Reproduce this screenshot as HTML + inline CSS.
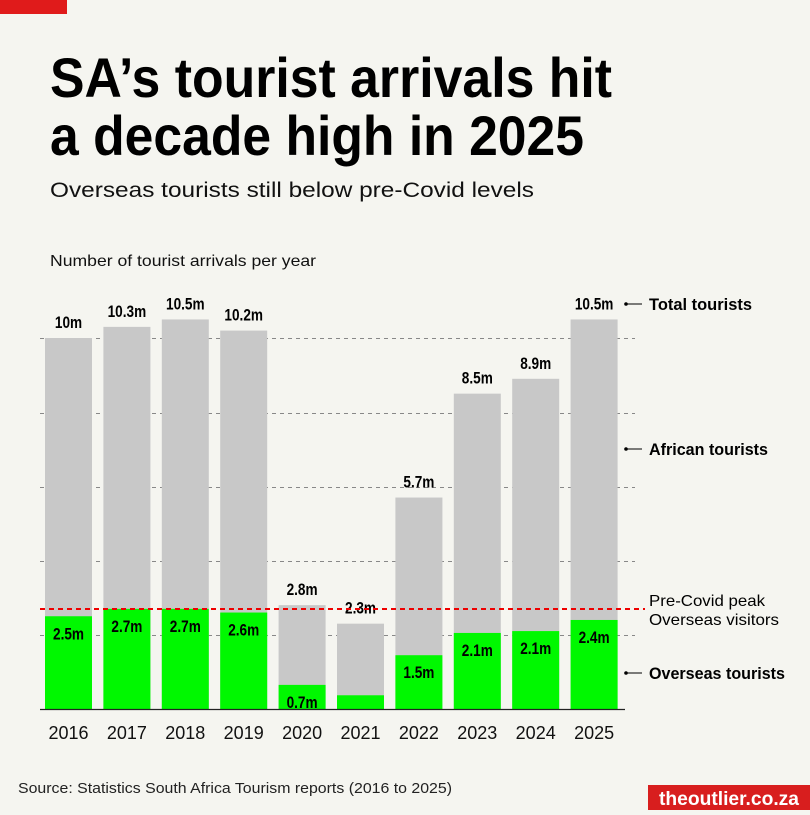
<!DOCTYPE html><html><head><style>
body{margin:0;background:#f5f5f0;}
text{font-family:"Liberation Sans",sans-serif;}
</style></head><body>
<svg width="810" height="810" xmlns="http://www.w3.org/2000/svg">
<rect width="810" height="810" fill="#f5f5f0"/>
<rect x="0" y="0" width="67" height="14" fill="#e01b1b"/>
<text x="50" y="97" font-size="56" font-weight="bold" fill="#000" textLength="562" lengthAdjust="spacingAndGlyphs">SA’s tourist arrivals hit</text>
<text x="50" y="155" font-size="56" font-weight="bold" fill="#000" textLength="534" lengthAdjust="spacingAndGlyphs">a decade high in 2025</text>
<text x="50" y="197" font-size="21" fill="#111" textLength="484" lengthAdjust="spacingAndGlyphs">Overseas tourists still below pre-Covid levels</text>
<text x="50" y="266" font-size="16" fill="#111" textLength="266" lengthAdjust="spacingAndGlyphs">Number of tourist arrivals per year</text>
<g stroke="#888" stroke-width="1" stroke-dasharray="4,4">
<line x1="40" y1="338.5" x2="635" y2="338.5"/><line x1="40" y1="413.5" x2="635" y2="413.5"/>
<line x1="40" y1="487.5" x2="635" y2="487.5"/><line x1="40" y1="561.5" x2="635" y2="561.5"/>
<line x1="40" y1="635.5" x2="635" y2="635.5"/>
</g>
<g id="bars"></g>
<line x1="40" y1="709.5" x2="625" y2="709.5" stroke="#222" stroke-width="1.2"/>
<line x1="40" y1="609" x2="645" y2="609" stroke="#e00" stroke-width="2" stroke-dasharray="5,4"/>
<g font-size="17" fill="#000">
<text x="649" y="310" font-weight="bold" textLength="103" lengthAdjust="spacingAndGlyphs">Total tourists</text>
<text x="649" y="455" font-weight="bold" textLength="119" lengthAdjust="spacingAndGlyphs">African tourists</text>
<text x="649" y="679" font-weight="bold" textLength="136" lengthAdjust="spacingAndGlyphs">Overseas tourists</text>
<text x="649" y="606" font-size="16" textLength="116" lengthAdjust="spacingAndGlyphs">Pre-Covid peak</text>
<text x="649" y="625" font-size="16" textLength="130" lengthAdjust="spacingAndGlyphs">Overseas visitors</text>
</g>
<g stroke="#000" stroke-width="1"><line x1="626" y1="304" x2="642" y2="304"/><line x1="626" y1="449" x2="642" y2="449"/><line x1="626" y1="673" x2="642" y2="673"/></g>
<g fill="#000"><circle cx="626" cy="304" r="1.8"/><circle cx="626" cy="449" r="1.8"/><circle cx="626" cy="673" r="1.8"/></g>
<text x="18" y="793" font-size="15" fill="#222" textLength="434" lengthAdjust="spacingAndGlyphs">Source: Statistics South Africa Tourism reports (2016 to 2025)</text>
<rect x="648" y="785" width="162" height="25" fill="#d81e1e"/>
<text x="729" y="805" font-size="19" font-weight="bold" fill="#fff" text-anchor="middle" textLength="140" lengthAdjust="spacingAndGlyphs">theoutlier.co.za</text>
</svg>
<script>
const d=[[2016,10,2.5,"10m","2.5m"],[2017,10.3,2.7,"10.3m","2.7m"],[2018,10.5,2.7,"10.5m","2.7m"],[2019,10.2,2.6,"10.2m","2.6m"],[2020,2.8,0.65,"2.8m","0.7m"],[2021,2.3,0.37,"2.3m",""],[2022,5.7,1.45,"5.7m","1.5m"],[2023,8.5,2.05,"8.5m","2.1m"],[2024,8.9,2.1,"8.9m","2.1m"],[2025,10.5,2.4,"10.5m","2.4m"]];
const ns="http://www.w3.org/2000/svg",g=document.getElementById("bars");
function el(t,a,txt){const e=document.createElementNS(ns,t);for(const k in a)e.setAttribute(k,a[k]);if(txt)e.textContent=txt;g.appendChild(e);return e;}
function lab(x,y,t){const e=el("text",{x:x,y:y,"font-size":17,"font-weight":"bold","text-anchor":"middle"},t);const L=e.getComputedTextLength()*0.8;e.setAttribute("textLength",L);e.setAttribute("lengthAdjust","spacingAndGlyphs");}
d.forEach((r,i)=>{const x=45+i*58.4,w=47,s=37.1,b=709;
const ht=r[1]*s,ho=r[2]*s;
el("rect",{x:x,y:b-ht,width:w,height:ht,fill:"#c8c8c8"});
el("rect",{x:x,y:b-ho,width:w,height:ho,fill:"#00f800"});
lab(x+w/2,b-ht-10,r[3]);
if(r[4])lab(x+w/2,b-ho+23,r[4]);
el("text",{x:x+w/2,y:739,"font-size":18,"text-anchor":"middle",fill:"#111"},r[0]);
});
</script>
</body></html>
